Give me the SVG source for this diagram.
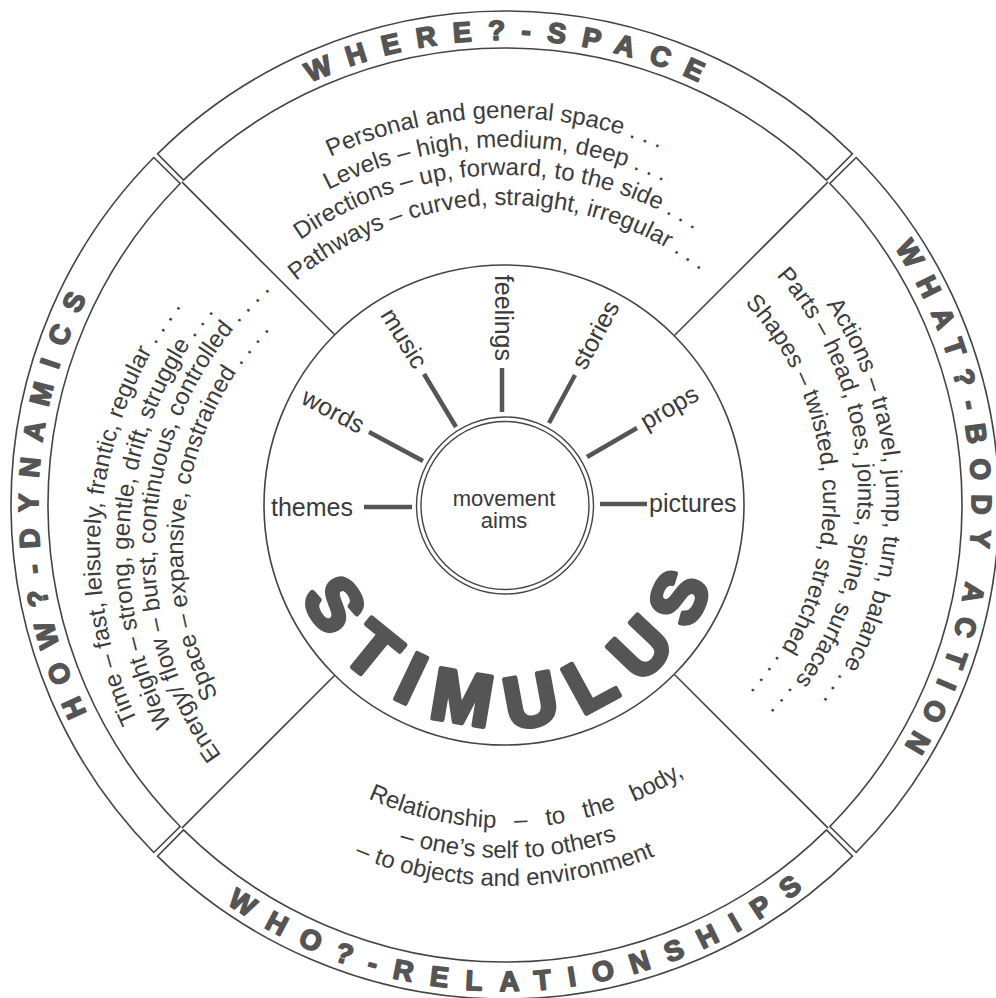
<svg xmlns="http://www.w3.org/2000/svg" width="996" height="998" viewBox="0 0 996 998">
<style>
.band{fill:#fff;stroke:#444;stroke-width:1.6}
.div{stroke:#444;stroke-width:1.6;fill:none}
.ring{fill:#fff;stroke:#444;stroke-width:1.6}
.spoke{stroke:#555;stroke-width:4.5}
.lbl{font-family:"Liberation Sans",Arial,sans-serif;font-size:25px;fill:#3a3a3a}
.sec{font-family:"Liberation Sans",Arial,sans-serif;font-size:24px;fill:#3c3c3c}
.head{font-family:"Liberation Sans",Arial,sans-serif;font-weight:bold;font-size:28px;fill:#555;stroke:#555;stroke-width:1.6;stroke-linejoin:round}
.big{font-family:"Liberation Sans",Arial,sans-serif;font-weight:bold;font-size:73px;fill:#555;stroke:#555;stroke-width:5;stroke-linejoin:round}
</style>
<defs>
<path id="pTop" d="M40,505 A465,465 0 0 1 970,505"/>
<path id="pRight" d="M505,38 A467,467 0 0 1 505,972"/>
<path id="pLeft" d="M505,972 A467,467 0 0 1 505,38"/>
<path id="pBottom" d="M19,505 A486,486 0 0 0 991,505"/>
<path id="pStim" d="M283,505 A222,222 0 0 0 727,505"/>
<path id="t1" d="M93,530 A412,412 0 0 1 917,530"/>
<path id="t2" d="M122,530 A383,383 0 0 1 888,530"/>
<path id="t3" d="M150,530 A355,355 0 0 1 860,530"/>
<path id="t4" d="M180,530 A325,325 0 0 1 830,530"/>
<path id="r1" d="M536,150 A350,350 0 0 1 536,850"/>
<path id="r2" d="M536,168 A322,322 0 0 1 536,812"/>
<path id="r3" d="M536,213 A287,287 0 0 1 536,787"/>
<path id="l1" d="M505,955 A405,405 0 0 1 505,145"/>
<path id="l2" d="M505,926 A376,376 0 0 1 505,174"/>
<path id="l3" d="M505,900 A350,350 0 0 1 505,200"/>
<path id="l4" d="M505,872 A322,322 0 0 1 505,228"/>
<path id="b1" d="M173,496 A332,332 0 0 0 837,496"/>
<path id="b2" d="M143,496 A362,362 0 0 0 867,496"/>
<path id="b3" d="M115,496 A390,390 0 0 0 895,496"/>
</defs>
<rect width="996" height="998" fill="#fff"/>

<g id="band-space">
<path class="band" d="M157.52,153.86 A494,494 0 0 1 852.48,153.86 L826.46,180.16 A457,457 0 0 0 183.54,180.16 Z"/>
<text class="head" letter-spacing="16"><textPath href="#pTop" startOffset="50.5%" text-anchor="middle">WHERE?-SPACE</textPath></text>
</g>
<g id="band-body">
<path class="band" d="M856.14,157.52 A494,494 0 0 1 856.14,852.48 L829.84,826.46 A457,457 0 0 0 829.84,183.54 Z"/>
<text class="head" letter-spacing="14" transform="rotate(-1.2 505 505)"><textPath href="#pRight" startOffset="50.5%" text-anchor="middle">WHAT?-BODY ACTION</textPath></text>
</g>
<g id="band-relationships">
<path class="band" d="M852.48,856.14 A494,494 0 0 1 157.52,856.14 L183.54,829.84 A457,457 0 0 0 826.46,829.84 Z"/>
<text class="head" letter-spacing="17.5" transform="rotate(-1.4 505 505)"><textPath href="#pBottom" startOffset="50.6%" text-anchor="middle">WHO?-RELATIONSHIPS</textPath></text>
</g>
<g id="band-dynamics">
<path class="band" d="M153.86,852.48 A494,494 0 0 1 153.86,157.52 L180.16,183.54 A457,457 0 0 0 180.16,826.46 Z"/>
<text class="head" letter-spacing="15.5"><textPath href="#pLeft" startOffset="50.5%" text-anchor="middle">HOW?-DYNAMICS</textPath></text>
</g>

<g id="dividers">
<line class="div" x1="674.7" y1="335.3" x2="828.15" y2="181.85"/>
<line class="div" x1="674.7" y1="674.7" x2="828.15" y2="828.15"/>
<line class="div" x1="335.3" y1="674.7" x2="181.85" y2="828.15"/>
<line class="div" x1="335.3" y1="335.3" x2="181.85" y2="181.85"/>
</g>

<g id="sector-space">
<g class="sec" transform="rotate(-1.5 505 530)">
<text><textPath href="#t1" startOffset="50%" text-anchor="middle">Personal and general space . . .</textPath></text>
<text><textPath href="#t2" startOffset="50%" text-anchor="middle">Levels – high, medium, deep . . .</textPath></text>
<text><textPath href="#t3" startOffset="50%" text-anchor="middle">Directions – up, forward, to the side . . .</textPath></text>
<text><textPath href="#t4" startOffset="50%" text-anchor="middle">Pathways – curved, straight, irregular . . .</textPath></text>
</g>
</g>
<g id="sector-body">
<g class="sec">
<text><textPath href="#r1" startOffset="50.3%" text-anchor="middle">Actions – travel, jump, turn, balance . . .</textPath></text>
<text><textPath href="#r2" startOffset="50.5%" text-anchor="middle">Parts – head, toes, joints, spine, surfaces . . .</textPath></text>
<text><textPath href="#r3" startOffset="49.6%" text-anchor="middle">Shapes – twisted, curled, stretched . . . .</textPath></text>
</g>
</g>
<g id="sector-dynamics">
<g class="sec">
<text><textPath href="#l1" startOffset="459.5">Time – fast, leisurely, frantic, regular . . . .</textPath></text>
<text><textPath href="#l2" startOffset="409.5">Weight – strong, gentle, drift, struggle . . .</textPath></text>
<text><textPath href="#l3" startOffset="330">Energy/ flow – burst, continuous, controlled . . . .</textPath></text>
<text><textPath href="#l4" startOffset="354">Space – expansive, constrained . . . .</textPath></text>
</g>
</g>
<g id="sector-relationships">
<g class="sec">
<text word-spacing="12"><textPath href="#b1" startOffset="380">Relationship – to the body,</textPath></text>
<text><textPath href="#b2" startOffset="461">– one’s self to others</textPath></text>
<text><textPath href="#b3" startOffset="458">– to objects and environment</textPath></text>
</g>
</g>

<g id="stimulus">
<circle class="ring" cx="504" cy="505" r="240"/>
<text class="big" letter-spacing="21" transform="rotate(-1.5 505 505)"><textPath href="#pStim" startOffset="51.5%" text-anchor="middle">STIMULUS</textPath></text>
</g>

<g id="spokes">
<line class="spoke" x1="364" y1="507" x2="412" y2="507"/>
<line class="spoke" x1="600" y1="504" x2="647" y2="504"/>
<line class="spoke" x1="369" y1="432" x2="423" y2="461"/>
<line class="spoke" x1="424" y1="374" x2="456" y2="427"/>
<line class="spoke" x1="502" y1="368" x2="502" y2="412"/>
<line class="spoke" x1="575" y1="375" x2="549" y2="423"/>
<line class="spoke" x1="587" y1="457" x2="637" y2="428"/>
</g>

<g id="label-themes"><text class="lbl" x="353" y="516" text-anchor="end">themes</text></g>
<g id="label-pictures"><text class="lbl" x="649" y="512">pictures</text></g>
<g id="label-words" transform="translate(362,428) rotate(28)"><text class="lbl" x="0" y="7" text-anchor="end">words</text></g>
<g id="label-music" transform="translate(420,367) rotate(58.3)"><text class="lbl" x="0" y="7" text-anchor="end">music</text></g>
<g id="label-feelings" transform="translate(502,361) rotate(90)"><text class="lbl" x="0" y="7" text-anchor="end">feelings</text></g>
<g id="label-stories" transform="translate(579,368) rotate(-61.7)"><text class="lbl" x="0" y="7">stories</text></g>
<g id="label-props" transform="translate(643,424.5) rotate(-30.3)"><text class="lbl" x="0" y="7">props</text></g>

<g id="movement-aims">
<circle cx="505" cy="505.5" r="88.5" fill="#fff" stroke="#444" stroke-width="1.4"/>
<circle cx="505" cy="505.5" r="84" fill="none" stroke="#444" stroke-width="1.4"/>
<text class="lbl" style="font-size:22px" x="504" y="506" text-anchor="middle">movement</text>
<text class="lbl" style="font-size:22px" x="504" y="528" text-anchor="middle">aims</text>
</g>
</svg>
